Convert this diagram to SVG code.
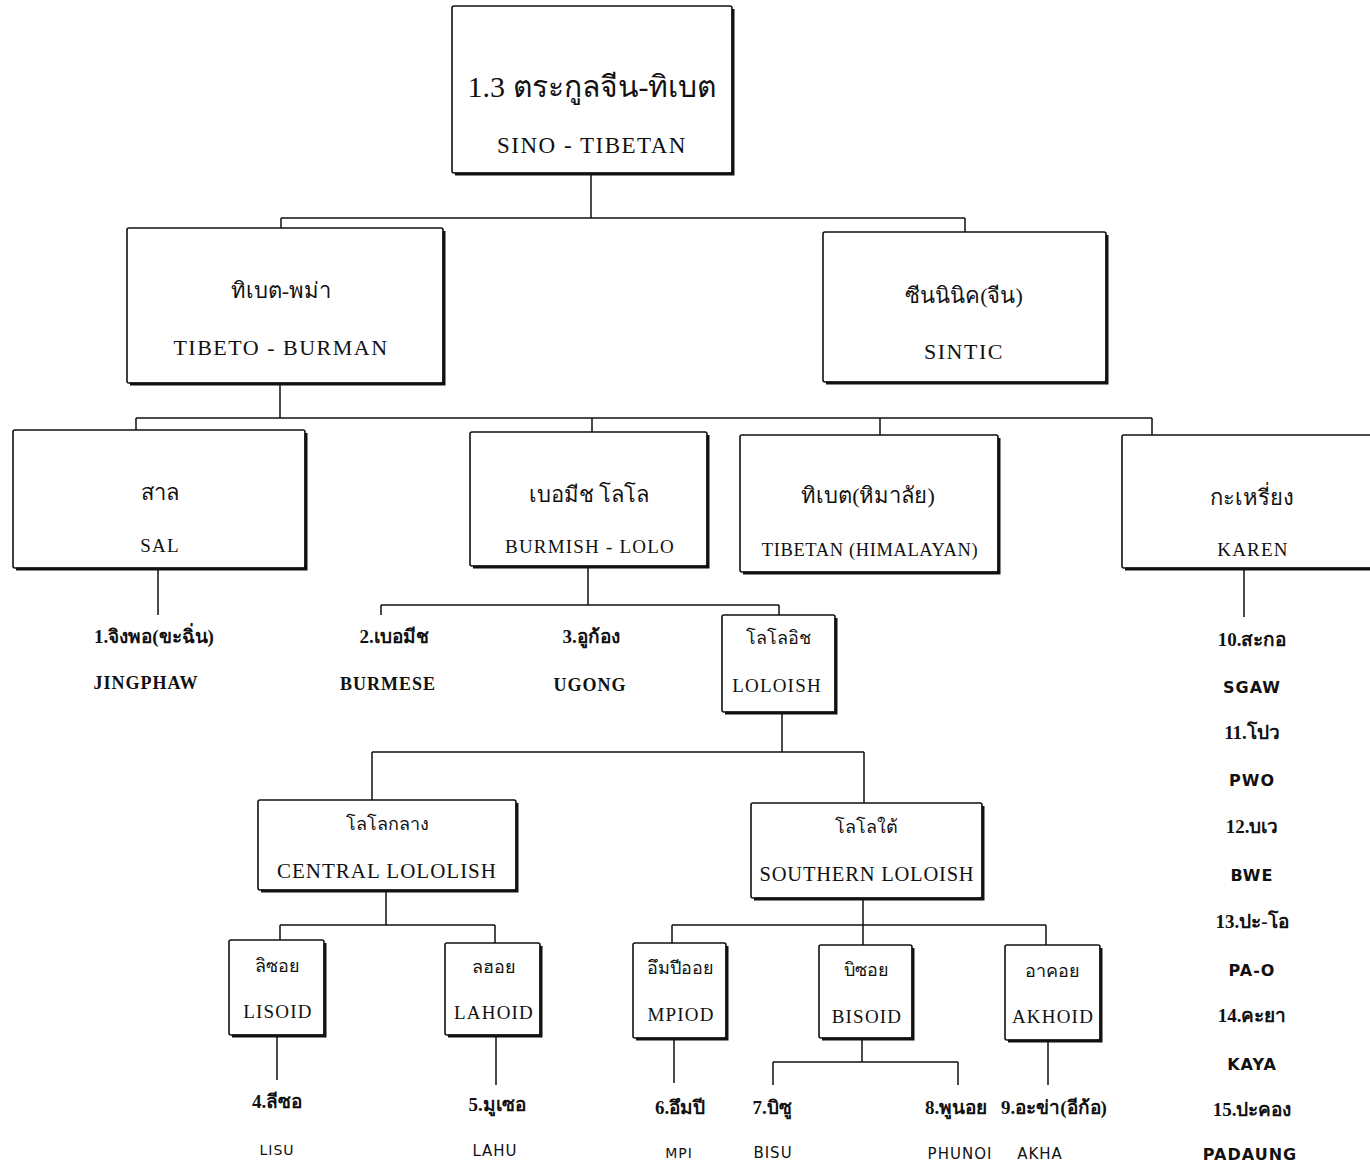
<svg xmlns="http://www.w3.org/2000/svg" width="1370" height="1166" viewBox="0 0 1370 1166">
<style>
.box{fill:#fff;stroke:#111;stroke-width:1.6}
.sh{fill:none;stroke:#111;stroke-width:3}
.ln{fill:none;stroke:#111;stroke-width:1.5}
text{font-family:"Liberation Serif","Noto Sans",serif;fill:#111;text-anchor:middle}
.th{font-size:22px}
.en{font-size:22px;letter-spacing:1.5px}
.sm{font-size:19px;letter-spacing:1.2px}
.st{font-size:18px}
.lt{font-size:19px;font-weight:bold}
.ls{font-size:18px;font-weight:bold;letter-spacing:1px}
.ll{font-size:16px;font-family:"DejaVu Sans","Liberation Sans",sans-serif;font-weight:bold;letter-spacing:1px}
.lb{font-size:15px;font-family:"DejaVu Sans","Liberation Sans",sans-serif;letter-spacing:1px}
</style>
<rect width="1370" height="1166" fill="#fff"/>
<g id="connectors">
<path class="ln" d="M591 175V218M281 218H965M281 218V228M965 218V232"/>
<path class="ln" d="M280 385V418M136 418H1152M136 418V430M592 418V432M880 418V435M1152 418V435"/>
<path class="ln" d="M158 570V615"/>
<path class="ln" d="M588 568V605M381 605H779M381 605V615M779 605V615"/>
<path class="ln" d="M1244 570V617"/>
<path class="ln" d="M782 714V752M372 752H864M372 752V800M864 752V803"/>
<path class="ln" d="M386 892V925M280 925H495M280 925V940M495 925V943"/>
<path class="ln" d="M277 1037V1080M496 1037V1085"/>
<path class="ln" d="M863 900V925M672 925H1046M672 925V943M863 925V945M1046 925V945"/>
<path class="ln" d="M674 1040V1083M1048 1042V1085"/>
<path class="ln" d="M862 1040V1062M773 1062H958M773 1062V1085M958 1062V1085"/>
</g>
<g id="root"><rect class="box" x="452" y="6" width="280" height="167" rx="2"/><path class="sh" d="M455 174H733V9"/>
<text x="592" y="97" style="font-size:30px">1.3  ตระกูลจีน-ทิเบต</text><text class="en" x="592" y="153" style="font-size:23px">SINO - TIBETAN</text></g>
<g id="tibeto-burman"><rect class="box" x="127" y="228" width="316" height="155" rx="2"/><path class="sh" d="M130 384H444V231"/>
<text class="th" x="281" y="298">ทิเบต-พม่า</text><text class="en" x="281" y="355">TIBETO - BURMAN</text></g>
<g id="sintic"><rect class="box" x="823" y="232" width="283" height="150" rx="2"/><path class="sh" d="M826 383H1107V235"/>
<text class="th" x="964" y="303">ซีนนินิค(จีน)</text><text class="en" x="964" y="359">SINTIC</text></g>
<g id="sal"><rect class="box" x="13" y="430" width="292" height="138" rx="2"/><path class="sh" d="M16 569H306V433"/>
<text class="th" x="160" y="500">สาล</text><text class="sm" x="160" y="552">SAL</text></g>
<g id="burmish-lolo"><rect class="box" x="470" y="432" width="237" height="134" rx="2"/><path class="sh" d="M473 567H708V435"/>
<text class="th" x="589" y="502">เบอมีช โลโล</text><text class="sm" x="590" y="553">BURMISH - LOLO</text></g>
<g id="tibetan"><rect class="box" x="740" y="435" width="258" height="137" rx="2"/><path class="sh" d="M743 573H999V438"/>
<text class="th" x="868" y="503">ทิเบต(หิมาลัย)</text><text class="sm" x="870" y="556" style="font-size:18.5px;letter-spacing:0.6px">TIBETAN (HIMALAYAN)</text></g>
<g id="karen"><rect class="box" x="1122" y="435" width="260" height="133" rx="2"/><path class="sh" d="M1125 569H1383"/>
<text class="th" x="1252" y="505">กะเหรี่ยง</text><text class="sm" x="1253" y="556">KAREN</text></g>
<g id="loloish"><rect class="box" x="722" y="615" width="113" height="97" rx="2"/><path class="sh" d="M725 713H836V618"/>
<text class="st" x="778" y="644">โลโลอิช</text><text class="sm" x="777" y="692">LOLOISH</text></g>
<g id="central"><rect class="box" x="258" y="800" width="258" height="90" rx="2"/><path class="sh" d="M261 891H517V803"/>
<text class="st" x="387" y="830">โลโลกลาง</text><text class="en" x="387" y="878" style="font-size:21px;letter-spacing:1px">CENTRAL LOLOLISH</text></g>
<g id="southern"><rect class="box" x="751" y="803" width="231" height="95" rx="2"/><path class="sh" d="M754 899H983V806"/>
<text class="st" x="866" y="833">โลโลใต้</text><text class="en" x="867" y="881" style="font-size:20.5px;letter-spacing:0.8px">SOUTHERN LOLOISH</text></g>
<g id="lisoid"><rect class="box" x="229" y="940" width="95" height="95" rx="2"/><path class="sh" d="M232 1036H325V943"/>
<text class="st" x="277" y="972">ลิซอย</text><text class="sm" x="278" y="1018">LISOID</text></g>
<g id="lahoid"><rect class="box" x="445" y="943" width="95" height="92" rx="2"/><path class="sh" d="M448 1036H541V946"/>
<text class="st" x="494" y="973">ลฮอย</text><text class="sm" x="494" y="1019">LAHOID</text></g>
<g id="mpiod"><rect class="box" x="633" y="943" width="93" height="95" rx="2"/><path class="sh" d="M636 1039H727V946"/>
<text class="st" x="680" y="974">อึมปีออย</text><text class="sm" x="681" y="1021">MPIOD</text></g>
<g id="bisoid"><rect class="box" x="819" y="945" width="93" height="93" rx="2"/><path class="sh" d="M822 1039H913V948"/>
<text class="st" x="866" y="976">บิซอย</text><text class="sm" x="867" y="1023">BISOID</text></g>
<g id="akhoid"><rect class="box" x="1005" y="945" width="95" height="95" rx="2"/><path class="sh" d="M1008 1041H1101V948"/>
<text class="st" x="1052" y="977">อาคอย</text><text class="sm" x="1053" y="1023">AKHOID</text></g>
<g id="leaf-jingphaw"><text class="lt" x="154" y="643">1.จิงพอ(ขะฉิ่น)</text><text class="ls" x="146" y="689">JINGPHAW</text></g>
<g id="leaf-burmese"><text class="lt" x="394" y="643">2.เบอมีช</text><text class="ls" x="388" y="690">BURMESE</text></g>
<g id="leaf-ugong"><text class="lt" x="591" y="643">3.อูก้อง</text><text class="ls" x="590" y="691">UGONG</text></g>
<g id="leaf-lisu"><text class="lt" x="277" y="1108">4.ลีซอ</text><text class="lb" x="277" y="1155" style="font-size:14px">LISU</text></g>
<g id="leaf-lahu"><text class="lt" x="497" y="1111">5.มูเซอ</text><text class="lb" x="495" y="1156">LAHU</text></g>
<g id="leaf-mpi"><text class="lt" x="680" y="1114">6.อึมปี</text><text class="lb" x="679" y="1158" style="font-size:14px">MPI</text></g>
<g id="leaf-bisu"><text class="lt" x="772" y="1114">7.บิซู</text><text class="lb" x="773" y="1158">BISU</text></g>
<g id="leaf-phunoi"><text class="lt" x="956" y="1114">8.พูนอย</text><text class="lb" x="960" y="1159">PHUNOI</text></g>
<g id="leaf-akha"><text class="lt" x="1054" y="1114">9.อะข่า(อีก้อ)</text><text class="lb" x="1040" y="1159">AKHA</text></g>
<g id="leaf-karen">
<text class="lt" x="1252" y="646">10.สะกอ</text><text class="ll" x="1252" y="693">SGAW</text>
<text class="lt" x="1252" y="739">11.โปว</text><text class="ll" x="1252" y="786">PWO</text>
<text class="lt" x="1252" y="833">12.บเว</text><text class="ll" x="1252" y="881">BWE</text>
<text class="lt" x="1252" y="928">13.ปะ-โอ</text><text class="ll" x="1252" y="976">PA-O</text>
<text class="lt" x="1252" y="1022">14.คะยา</text><text class="ll" x="1252" y="1070">KAYA</text>
<text class="lt" x="1252" y="1116">15.ปะคอง</text><text class="ll" x="1250" y="1160">PADAUNG</text>
</g>
</svg>
